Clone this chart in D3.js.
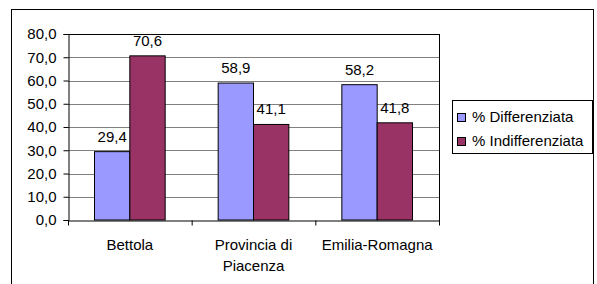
<!DOCTYPE html>
<html>
<head>
<meta charset="utf-8">
<script src="https://cdn.jsdelivr.net/npm/d3@7"></script>
<style>
  html, body { margin: 0; padding: 0; background: #fff; }
  svg { display: block; }
  text { font-family: "Liberation Sans", Arial, sans-serif; fill: #000; }
</style>
</head>
<body>
<svg id="chart" width="597" height="284"></svg>
<script>
const categories = [["Bettola"], ["Provincia di", "Piacenza"], ["Emilia-Romagna"]];
const seriesNames = ["% Differenziata", "% Indifferenziata"];
const differenziata = [29.4, 58.9, 58.2];
const indifferenziata = [70.6, 41.1, 41.8];
const yTicks = [0, 10, 20, 30, 40, 50, 60, 70, 80];
const colors = ["#9999FF", "#993366"];

const svg = d3.select("#chart");
const fmt = v => d3.format(".1f")(v).replace(".", ",");

// outer frame
svg.append("rect").attr("x", 11.5).attr("y", 9.5).attr("width", 582).attr("height", 300)
  .attr("fill", "none").attr("stroke", "#000");

const plot = { left: 68, right: 439, top: 34, bottom: 220 };
const x = d3.scaleBand().domain(d3.range(categories.length)).range([plot.left, plot.right]);
const y = d3.scaleLinear().domain([0, 80]).range([plot.bottom, plot.top]);
const barW = x.bandwidth() / 3.5;

// gridlines
svg.append("g").selectAll("line").data(yTicks.filter(t => t > 0 && t < 80)).join("line")
  .attr("x1", plot.left).attr("x2", plot.right)
  .attr("y1", d => Math.round(y(d)) + 0.5).attr("y2", d => Math.round(y(d)) + 0.5)
  .attr("stroke", "#808080");

// plot border top/right
svg.append("line").attr("x1", plot.left).attr("x2", plot.right + 0.5)
  .attr("y1", plot.top + 0.5).attr("y2", plot.top + 0.5).attr("stroke", "#000");
svg.append("line").attr("x1", plot.right + 0.5).attr("x2", plot.right + 0.5)
  .attr("y1", plot.top).attr("y2", plot.bottom + 5).attr("stroke", "#000");

// bars
const series = [differenziata, indifferenziata];
series.forEach((vals, si) => {
  const g = svg.append("g");
  g.selectAll("rect").data(vals).join("rect")
    .attr("x", (d, i) => x(i) + x.bandwidth() / 2 - barW + si * barW)
    .attr("y", d => y(d))
    .attr("width", barW)
    .attr("height", d => y(0) - y(d))
    .attr("fill", colors[si]).attr("stroke", "#000").attr("stroke-width", 1);
  g.selectAll("text").data(vals).join("text")
    .attr("x", (d, i) => x(i) + x.bandwidth() / 2 - barW + si * barW + barW / 2)
    .attr("y", d => y(d) - 10)
    .attr("text-anchor", "middle").attr("font-size", 15)
    .text(d => fmt(d));
});

// y axis
const yAxis = d3.axisLeft(y).tickValues(yTicks).tickFormat(fmt).tickSize(5).tickPadding(7);
const ya = svg.append("g").attr("transform", `translate(${plot.left + 0.5},0)`).call(yAxis);
ya.select(".domain").attr("stroke", "#000");
ya.selectAll("text").attr("font-size", 15).attr("font-family", "Liberation Sans, Arial, sans-serif");

// x axis
const xb = d3.scaleLinear().domain([0, 3]).range([plot.left, plot.right]);
const xa = svg.append("g").attr("transform", `translate(0,${plot.bottom + 0.5})`)
  .call(d3.axisBottom(xb).tickValues([0, 1, 2, 3]).tickFormat("").tickSize(5).tickSizeOuter(0));
xa.selectAll("line").attr("stroke", "#000");
xa.select(".domain").attr("stroke", "#000");

svg.append("g").selectAll("text").data(categories).join("text")
  .attr("x", (d, i) => x(i) + x.bandwidth() / 2)
  .attr("y", 249.5)
  .attr("text-anchor", "middle").attr("font-size", 15)
  .each(function(d) {
    d3.select(this).selectAll("tspan").data(d).join("tspan")
      .attr("x", d3.select(this).attr("x"))
      .attr("dy", (t, j) => j === 0 ? 0 : 21)
      .text(t => t);
  });

// legend
const lg = svg.append("g");
lg.append("rect").attr("x", 452.5).attr("y", 100.5).attr("width", 140).attr("height", 53)
  .attr("fill", "#fff").attr("stroke", "#000");
seriesNames.forEach((name, i) => {
  lg.append("rect").attr("x", 457.5).attr("y", 113.5 + i * 24).attr("width", 8).attr("height", 8)
    .attr("fill", colors[i]).attr("stroke", "#000");
  lg.append("text").attr("x", 472).attr("y", 121.7 + i * 24).attr("font-size", 15).text(name);
});
</script>
</body>
</html>
